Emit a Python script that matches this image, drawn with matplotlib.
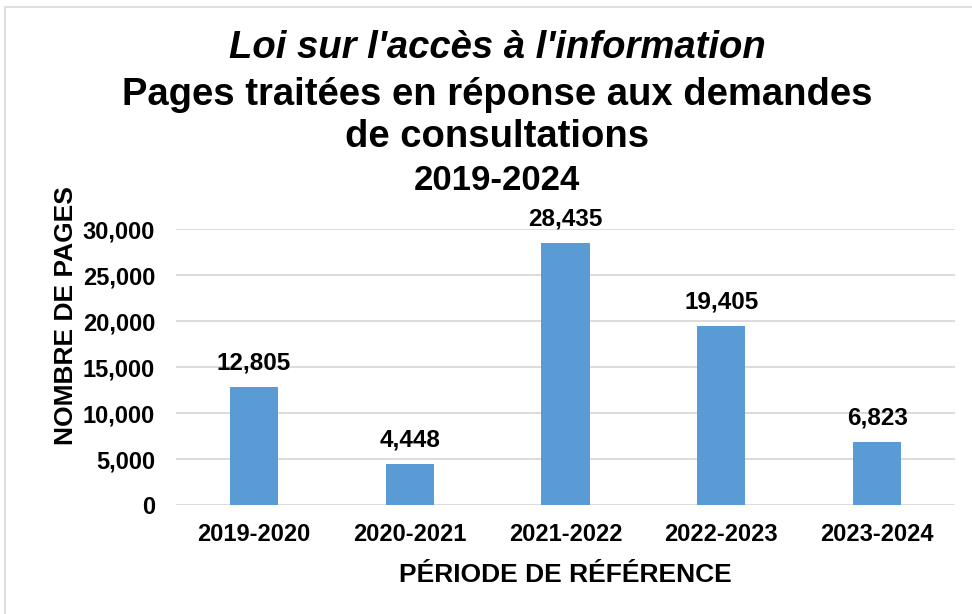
import matplotlib.pyplot as plt
from matplotlib.patches import Rectangle

plt.rcParams['font.family'] = ['Liberation Sans', 'DejaVu Sans']

periods = ['2019-2020', '2020-2021', '2021-2022', '2022-2023', '2023-2024']
pages = [12805, 4448, 28435, 19405, 6823]
yticks = [0, 5000, 10000, 15000, 20000, 25000, 30000]

W, H = 972, 614
fig = plt.figure(figsize=(W / 100, H / 100), dpi=100)
# plot area in pixels: left 176, right 955, y=0 at 505, y=30000 at 229
ax = fig.add_axes([176 / W, 1 - 505 / H, 779 / W, (505 - 229) / H])
ax.set_ylim(0, 30000)

x = range(len(periods))
ax.bar(x, pages, width=0.31, color='#5B9BD5', zorder=3)
ax.set_xlim(-0.5, len(periods) - 0.5)
for i, v in enumerate(pages):
    ax.text(i, v + 1400, f'{v:,}', ha='center', va='bottom',
            fontsize=17.5, fontweight='bold')

ax.set_yticks(yticks)
ax.set_yticklabels([f'{t:,}' for t in yticks], fontsize=17, fontweight='bold')
ax.set_xticks(list(x))
ax.set_xticklabels(periods, fontsize=17, fontweight='bold')
ax.tick_params(length=0)
ax.tick_params(axis='x', pad=13)
ax.tick_params(axis='y', pad=15)
ax.grid(axis='y', color='#D9D9D9', linewidth=1.3, zorder=0)
for s in ax.spines.values():
    s.set_visible(False)

ax.set_xlabel('PÉRIODE DE RÉFÉRENCE', fontsize=19, fontweight='bold', labelpad=12)
# y label sits above the axis centre in the original
fig.text(66 / W, 1 - 316 / H, 'NOMBRE DE PAGES', rotation=90, ha='center', va='center',
         fontsize=19, fontweight='bold')

cx = 497 / W
fig.text(cx, 1 - 48 / H, "Loi sur l'accès à l'information", ha='center', va='center',
         fontsize=27.5, style='italic', fontweight='bold')
fig.text(cx, 1 - 95 / H, 'Pages traitées en réponse aux demandes', ha='center',
         va='center', fontsize=27.5, fontweight='bold')
fig.text(cx, 1 - 137 / H, 'de consultations', ha='center', va='center',
         fontsize=27.5, fontweight='bold')
fig.text(cx, 1 - 180 / H, '2019-2024', ha='center', va='center',
         fontsize=25, fontweight='bold')

fig.patches.append(Rectangle((5 / W, -0.1), 1.2, 1 - 7 / H + 0.1, transform=fig.transFigure,
                             fill=False, edgecolor='#D9D9D9', linewidth=1.2))

fig.savefig('out.png', dpi=100)
